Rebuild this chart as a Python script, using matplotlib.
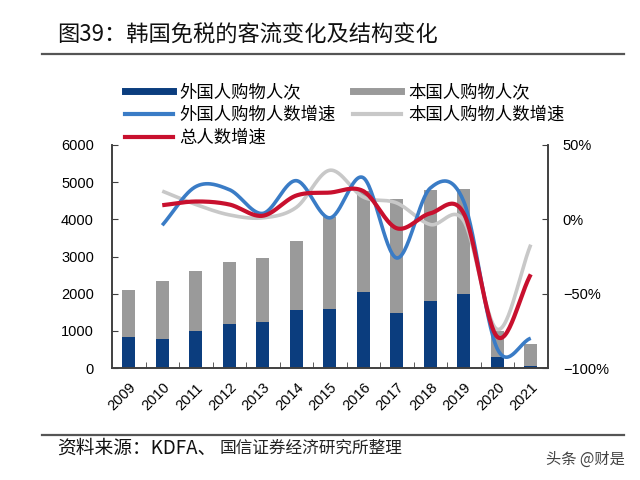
import numpy as np
import matplotlib
matplotlib.use("Agg")
import matplotlib.pyplot as plt
from matplotlib.lines import Line2D

plt.rcParams['font.family'] = ['Noto Sans CJK SC', 'DejaVu Sans']

years = ['2009', '2010', '2011', '2012', '2013', '2014', '2015',
         '2016', '2017', '2018', '2019', '2020', '2021']
# thousand persons (stacked bars)
foreign = [830, 790, 990, 1190, 1240, 1560, 1590, 2040, 1490, 1790, 1990, 300, 45]
domestic = [1280, 1550, 1630, 1660, 1710, 1850, 2460, 2710, 3070, 3000, 2830, 700, 605]
# growth rates (%), from 2010
foreign_g = [-4, 22, 20, 4, 26, 1, 28, -26, 21, 12, -87, -80]
domestic_g = [19, 10, 3, 1, 8, 33, 15, 11, -3.5, -1, -74, -17]
total_g = [9.5, 12, 10, 2.4, 16, 18, 19, -6, 4, 4, -79, -37]

c_navy = '#0B3D7E'
c_gray = '#9A9A9A'
c_blue = '#3A7CC6'
c_lgray = '#C8C8C8'
c_red = '#C8102E'


def catmull_rom(xs, ys, n=30):
    xs = np.asarray(xs, float)
    ys = np.asarray(ys, float)
    px = np.concatenate([[2 * xs[0] - xs[1]], xs, [2 * xs[-1] - xs[-2]]])
    py = np.concatenate([[2 * ys[0] - ys[1]], ys, [2 * ys[-1] - ys[-2]]])
    ox, oy = [], []
    t = np.linspace(0, 1, n, endpoint=False)
    for i in range(1, len(px) - 2):
        for P, out in ((px, ox), (py, oy)):
            p0, p1, p2, p3 = P[i - 1], P[i], P[i + 1], P[i + 2]
            out.extend(0.5 * ((2 * p1) + (-p0 + p2) * t +
                              (2 * p0 - 5 * p1 + 4 * p2 - p3) * t ** 2 +
                              (-p0 + 3 * p1 - 3 * p2 + p3) * t ** 3))
    ox.append(xs[-1]); oy.append(ys[-1])
    return np.array(ox), np.array(oy)


fig = plt.figure(figsize=(6.4, 4.8), dpi=100)
ax = fig.add_axes([112 / 640, 1 - 368 / 480, (547.5 - 112) / 640, (368 - 145) / 480])
x = np.arange(len(years))
ax.bar(x, foreign, width=0.38, color=c_navy, zorder=2)
ax.bar(x, domestic, width=0.38, bottom=foreign, color=c_gray, zorder=2)
ax.set_xlim(-0.5, len(years) - 0.5)
ax.set_ylim(0, 6000)
ax.set_yticks(range(0, 6001, 1000))
ax.set_xticks(x)
ax.set_xticklabels(years, rotation=45, ha='right', rotation_mode='anchor',
                   family='Liberation Sans', fontsize=10.5)
ax.set_xticks(np.arange(0.5, len(years) - 0.5, 1), minor=True)
ax.tick_params(axis='x', which='major', length=0, pad=9)
ax.tick_params(axis='x', which='minor', length=4, direction='in', color='#404040')
ax.tick_params(axis='y', length=4, direction='in', pad=13, color='#404040')
for lab in ax.get_yticklabels():
    lab.set_family('Liberation Sans'); lab.set_fontsize(10.5)

ax2 = ax.twinx()
ax2.set_ylim(-100, 50)
ax2.set_yticks([-100, -50, 0, 50])
ax2.set_yticklabels(['\u2212100%', '\u221250%', '0%', '50%'],
                    family='Liberation Sans', fontsize=10.5)
ax2.tick_params(axis='y', length=4, direction='in', pad=11, color='#404040')

xl = x[1:]
for data, col, lw in ((domestic_g, c_lgray, 2.6), (foreign_g, c_blue, 2.6), (total_g, c_red, 3.0)):
    sx, sy = catmull_rom(xl, data)
    ax2.plot(sx, sy, color=col, lw=lw, solid_capstyle='butt', zorder=3)

for a in (ax, ax2):
    a.spines['top'].set_visible(False)
    for s in ('left', 'right', 'bottom'):
        a.spines[s].set_color('#404040')
        a.spines[s].set_linewidth(1.2)

handles = [Line2D([], [], color=c_navy, lw=5),
           Line2D([], [], color=c_blue, lw=3),
           Line2D([], [], color=c_red, lw=3),
           Line2D([], [], color=c_gray, lw=5),
           Line2D([], [], color=c_lgray, lw=3)]
labels = ['外国人购物人次', '外国人购物人数增速', '总人数增速', '本国人购物人次', '本国人购物人数增速']
fig.legend(handles, labels, ncol=2, loc='upper left', bbox_to_anchor=(125 / 640, 1 - 83 / 480),
           frameon=False, fontsize=12.5, handlelength=2.75, handletextpad=0.4,
           columnspacing=1.0, labelspacing=0.28, borderpad=0, borderaxespad=0)

fig.text(57 / 640, 1 - 35 / 480, '图39：韩国免税的客流变化及结构变化', fontsize=16,
         va='center', ha='left', color='#111111')
fig.add_artist(Line2D([42 / 640, 624 / 640], [1 - 54 / 480] * 2, color='#555555', lw=1.6))
fig.add_artist(Line2D([42 / 640, 624 / 640], [1 - 435 / 480] * 2, color='#555555', lw=1.6))
fig.text(57 / 640, 1 - 448 / 480, '资料来源：KDFA、', fontsize=13.5, va='center', ha='left',
         color='#111111')
fig.text(220 / 640, 1 - 448 / 480, '国信证券经济研究所整理', fontsize=12, va='center', ha='left',
         color='#222222')
fig.text(625 / 640, 1 - 459 / 480, '头条 @财是', fontsize=11, va='center', ha='right',
         color='#444444')

fig.savefig('out.png', dpi=100)
